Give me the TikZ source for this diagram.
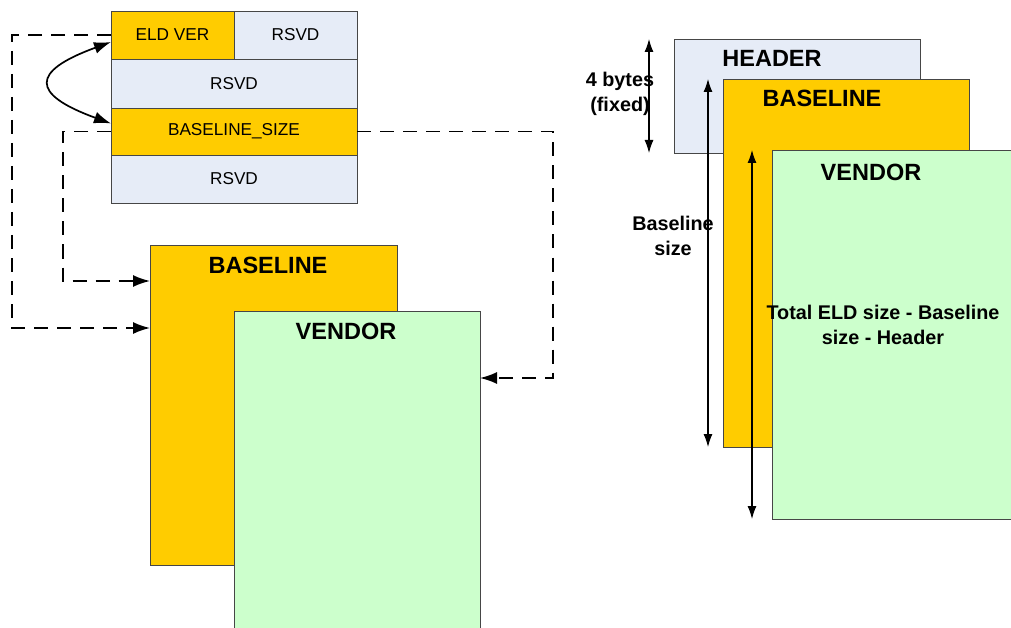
\documentclass[tikz,border=0pt]{standalone}
\usepackage{fontspec}
\setmainfont{Liberation Sans}
\usepackage{xcolor}
\usetikzlibrary{arrows.meta,positioning,calc}
\definecolor{eldgold}{RGB}{255,204,0}
\definecolor{eldblue}{RGB}{230,236,247}
\definecolor{eldgreen}{RGB}{204,255,204}
\definecolor{eldline}{RGB}{70,70,70}

\begin{document}
\begin{tikzpicture}[
  x=1pt, y=-1pt,
  font=\fontsize{17.2}{20}\selectfont,
  cell/.style={draw=eldline, anchor=north west, minimum height=48pt, inner sep=0pt, outer sep=0pt},
  page/.style={draw=eldline, anchor=north west, inner sep=0pt, outer sep=0pt},
  title/.style={font=\bfseries\fontsize{23.5}{27}\selectfont},
  note/.style={font=\bfseries\fontsize{19.8}{24.5}\selectfont, align=center},
  link/.style={-{Latex[length=17pt,width=12pt]}, line width=1.7pt, dash pattern=on 14pt off 9pt},
  swap/.style={{Latex[length=17pt,width=12pt]}-{Latex[length=17pt,width=12pt]}, line width=1.7pt},
  dim/.style={{Latex[length=13pt,width=9pt]}-{Latex[length=13pt,width=9pt]}, line width=1.1pt}
]
\useasboundingbox[fill=white] (0,0) rectangle (1011,628);
% register layout
\node[cell, fill=eldgold, minimum width=123pt] (eldver) at (111,11) {ELD VER};
\node[cell, fill=eldblue, minimum width=123pt] (rsvd0) at (234,11) {RSVD};
\node[cell, fill=eldblue, minimum width=246pt, minimum height=49pt] (rsvd1) at (111,59) {RSVD};
\node[cell, fill=eldgold, minimum width=246pt, minimum height=47pt] (blsize) at (111,108) {BASELINE\_SIZE};
\node[cell, fill=eldblue, minimum width=246pt] (rsvd2) at (111,155) {RSVD};
% left blocks
\node[page, fill=eldgold, minimum width=247pt, minimum height=320pt] (base) at (150,245) {};
\node[page, fill=eldgreen, minimum width=246pt, minimum height=330pt] (vend) at (234,311) {};
\node[title] (basetitle) at (268,265) {BASELINE};
\node[title] (vendtitle) at (346,331) {VENDOR};
\draw[swap] ([yshift=-7pt]eldver.west) to[out=200,in=160,looseness=2.7] ([yshift=8pt]blsize.west);
\draw[link] (eldver.west) -- ++(-99,0) |- ([yshift=-83pt]base.north west);
\draw[link] (blsize.west) -- ++(-48,0) |- ([yshift=-36pt]base.north west);
\draw[link] (blsize.east) -- ++(196,0) |- ([yshift=-67pt]vend.north east);
% right blocks
\node[page, fill=eldblue, minimum width=246pt, minimum height=114pt] (hdr) at (674,39) {};
\node[title] (hdrtitle) at (772,58) {HEADER};
\node[page, fill=eldgold, minimum width=246pt, minimum height=368pt] (base2) at (723,79) {};
\node[title] (base2title) at (822,98) {BASELINE};
\node[page, fill=eldgreen, minimum width=250pt, minimum height=369pt] (vend2) at (772,150) {};
\node[title] (vend2title) at (871,172) {VENDOR};
\draw[dim] ([xshift=-25pt]hdr.north west) -- ([xshift=-25pt]hdr.south west);
\draw[dim] ([xshift=-15pt]base2.north west) -- ([xshift=-15pt]base2.south west);
\draw[dim] ([xshift=-20pt]vend2.north west) -- ([xshift=-20pt]vend2.south west);
\node[note] (hdrnote) at (620,94) {4 bytes\\(fixed)};
\node[note] (basenote) at (673,236) {Baseline\\size};
\node[note] (vendnote) at (883,325) {Total ELD size - Baseline\\size - Header};
\end{tikzpicture}
\end{document}
